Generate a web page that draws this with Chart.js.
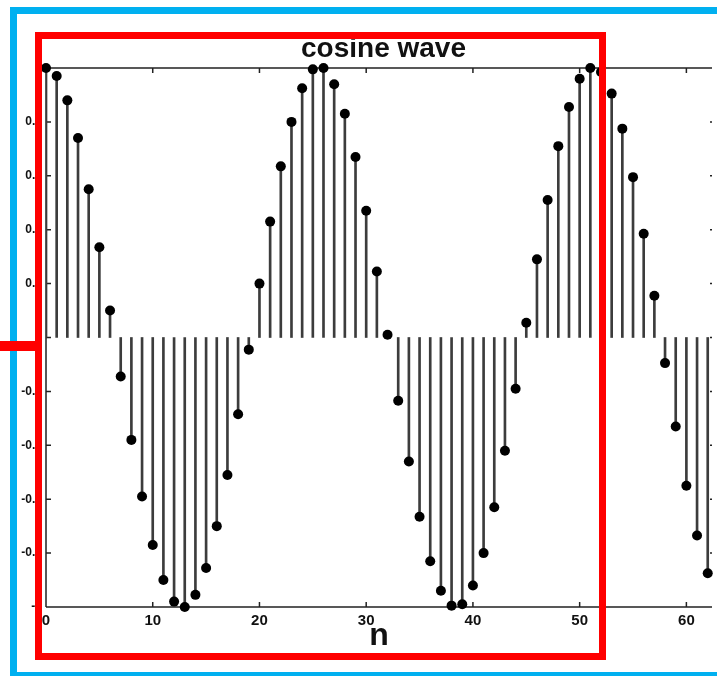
<!DOCTYPE html>
<html>
<head>
<meta charset="utf-8">
<title>cosine wave</title>
<script src="https://cdn.jsdelivr.net/npm/chart.js@4/dist/chart.umd.min.js"></script>
<style>
  body { margin: 0; background: #fff; }
  #wrap { position: relative; width: 717px; height: 676px; overflow: hidden; background: #fff; }
  #wrap canvas { position: absolute; left: 0; top: 0; }
  .box { position: absolute; box-sizing: border-box; pointer-events: none; }
  #blueBox { left: 10px; top: 7px; width: 760px; height: 672px; border: 7px solid #00b0f0; }
  #redBox { left: 35px; top: 32px; width: 571px; height: 628px; border: 7.5px solid #ff0000; }
  #redStub { left: 0; top: 341px; width: 38px; height: 10px; background: #ff0000; }
</style>
</head>
<body>
<div id="wrap">
  <canvas id="cosChart" width="717" height="676"></canvas>
  <div class="box" id="blueBox"></div>
  <div class="box" id="redBox"></div>
  <div class="box" id="redStub"></div>
</div>
<script>
// sample index n
const sampleIndex = [
  0, 1, 2, 3, 4, 5, 6, 7, 8, 9,
  10, 11, 12, 13, 14, 15, 16, 17, 18, 19,
  20, 21, 22, 23, 24, 25, 26, 27, 28, 29,
  30, 31, 32, 33, 34, 35, 36, 37, 38, 39,
  40, 41, 42, 43, 44, 45, 46, 47, 48, 49,
  50, 51, 52, 53, 54, 55, 56, 57, 58, 59,
  60, 61, 62
];

// values
const cosValues = [
  1.00, 0.97, 0.88, 0.74, 0.55, 0.335, 0.10, -0.145, -0.38, -0.59,
  -0.77, -0.90, -0.98, -1.00, -0.955, -0.855, -0.70, -0.51, -0.285, -0.045,
  0.20, 0.43, 0.635, 0.80, 0.925, 0.995, 1.00, 0.94, 0.83, 0.67,
  0.47, 0.245, 0.01, -0.235, -0.46, -0.665, -0.83, -0.94, -0.995, -0.99,
  -0.92, -0.80, -0.63, -0.42, -0.19, 0.055, 0.29, 0.51, 0.71, 0.855,
  0.96, 1.00, 0.985, 0.905, 0.775, 0.595, 0.385, 0.155, -0.095, -0.33,
  -0.55, -0.735, -0.875
];

const xTicks = [0, 10, 20, 30, 40, 50, 60];
const yTicks = [-1, -0.8, -0.6, -0.4, -0.2, 0, 0.2, 0.4, 0.6, 0.8, 1];

const points = sampleIndex.map((n, i) => ({ x: n, y: cosValues[i] }));
const fontFamily = "'Liberation Sans', Arial, Helvetica, sans-serif";

// box round the plot with inward ticks, like the old matlab figure
const framePlugin = {
  id: 'frame',
  afterLayout(chart) {
    // the original figure was wider, its title sits right of our canvas centre
    const t = chart.titleBlock;
    if (t) { t.left += 25; t.right += 25; }
  },
  beforeDatasetsDraw(chart) {
    const { ctx, chartArea: a, scales: { x, y } } = chart;
    ctx.save();
    ctx.strokeStyle = '#222';
    ctx.lineWidth = 1.5;
    ctx.beginPath();
    ctx.moveTo(a.left, a.top); ctx.lineTo(a.right, a.top);
    ctx.moveTo(a.left, a.top); ctx.lineTo(a.left, a.bottom);
    ctx.moveTo(a.left, a.bottom); ctx.lineTo(a.right, a.bottom);
    x.ticks.forEach(t => {
      const px = x.getPixelForValue(t.value);
      ctx.moveTo(px, a.bottom); ctx.lineTo(px, a.bottom - 5);
      ctx.moveTo(px, a.top); ctx.lineTo(px, a.top + 5);
    });
    y.ticks.forEach(t => {
      const py = y.getPixelForValue(t.value);
      ctx.moveTo(a.left, py); ctx.lineTo(a.left + 5, py);
      ctx.moveTo(a.right, py); ctx.lineTo(a.right - 2, py);
    });
    ctx.stroke();
    ctx.restore();
  }
};

new Chart(document.getElementById('cosChart'), {
  type: 'bar',
  data: {
    datasets: [
      {
        type: 'scatter',
        data: points,
        order: 1,
        pointRadius: 5,
        pointBackgroundColor: '#000',
        pointBorderWidth: 0,
        showLine: false,
        clip: false
      },
      {
        type: 'bar',
        data: points,
        order: 2,
        backgroundColor: '#3c3c3c',
        barThickness: 2
      }
    ]
  },
  options: {
    responsive: false,
    devicePixelRatio: 1,
    animation: false,
    events: [],
    layout: { padding: 0 },
    plugins: {
      legend: { display: false },
      tooltip: { enabled: false },
      title: {
        display: true,
        text: 'cosine wave',
        color: '#111',
        font: { family: fontFamily, size: 28, weight: 'bold' },
        padding: { top: 32, bottom: 2.4 }
      }
    },
    scales: {
      x: {
        type: 'linear',
        offset: false,
        min: 0,
        max: 62.4,
        grid: { display: false, drawTicks: false },
        border: { display: false },
        afterBuildTicks: s => { s.ticks = xTicks.map(v => ({ value: v })); },
        afterFit: s => { s.height = 69; },
        ticks: {
          padding: 5,
          color: '#111',
          font: { family: fontFamily, size: 15, weight: 'bold' },
          callback: v => String(v)
        },
        title: {
          display: true,
          text: 'n',
          color: '#111',
          font: { family: fontFamily, size: 32, weight: 'bold' },
          padding: { top: 0, bottom: 21 }
        }
      },
      y: {
        min: -1,
        max: 1,
        grid: { display: false, drawTicks: false },
        border: { display: false },
        afterBuildTicks: s => { s.ticks = yTicks.map(v => ({ value: v })); },
        afterFit: s => { s.width = 46; },
        ticks: {
          padding: 4,
          color: '#111',
          font: { family: fontFamily, size: 12, weight: 'bold' },
          callback: v => String(v)
        }
      }
    }
  },
  plugins: [framePlugin]
});
</script>
</body>
</html>
